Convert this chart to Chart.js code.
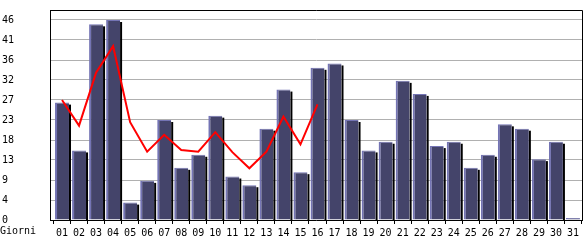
<!DOCTYPE html>
<html>
<head>
<meta charset="utf-8">
<script src="https://cdn.jsdelivr.net/npm/chart.js@4/dist/chart.umd.min.js"></script>
<style>
  html, body { margin: 0; padding: 0; background: #fff; }
  #wrap { width: 585px; height: 240px; }
</style>
</head>
<body>
<div id="wrap"><canvas id="grafico" width="585" height="240"></canvas></div>
<script>
// giorni del mese
var giorni = ['01','02','03','04','05','06','07','08','09','10','11','12','13','14','15','16',
              '17','18','19','20','21','22','23','24','25','26','27','28','29','30','31'];

// valori delle barre
var visite = [27, 16, 45, 46, 4, 9, 23, 12, 15, 24, 10, 8, 21, 30, 11, 35,
              36, 23, 16, 18, 32, 29, 17, 18, 12, 15, 22, 21, 14, 18, 0];

// linea rossa (solo primi 16 giorni)
var media = [27.6, 21.7, 33.9, 40.0, 22.5, 15.7, 19.6, 16.1, 15.7, 20.2, 15.6, 11.9,
             15.7, 23.8, 17.4, 26.6];

// tacche asse y
var yTickValori = [0, 4.6, 9.2, 13.8, 18.4, 23, 27.6, 32.2, 36.8, 41.4, 46];
var yTickEtichette = ['0', '4', '9', '13', '18', '23', '27', '32', '36', '41', '46'];

var fontMono = { family: 'DejaVu Sans Mono', size: 10 };

// ombra nera a destra delle barre (disegnata prima delle barre)
var ombraBarre = {
    id: 'ombraBarre',
    beforeDatasetDraw: function (chart, args) {
        if (args.index !== 0) return;
        var ctx = chart.ctx;
        var a = chart.chartArea;
        ctx.save();
        ctx.beginPath();
        ctx.rect(a.left, a.top, a.right - a.left, a.bottom - a.top);
        ctx.clip();
        ctx.fillStyle = '#000';
        args.meta.data.forEach(function (bar) {
            var p = bar.getProps(['x', 'y', 'base', 'width']);
            var alto = Math.min(p.y, p.base);
            var basso = Math.max(p.y, p.base);
            ctx.fillRect(p.x + p.width / 2, alto + 2, 2, basso - alto);
        });
        ctx.restore();
    }
};

// cornice in alto/destra + scritta "Giorni"
var cornice = {
    id: 'cornice',
    afterDraw: function (chart) {
        var ctx = chart.ctx;
        var a = chart.chartArea;
        ctx.save();
        ctx.strokeStyle = '#000';
        ctx.lineWidth = 1;
        ctx.beginPath();
        ctx.moveTo(a.left, a.top + 0.5);
        ctx.lineTo(a.right + 0.5, a.top + 0.5);
        ctx.lineTo(a.right + 0.5, a.bottom);
        ctx.stroke();
        ctx.fillStyle = '#000';
        ctx.font = '10px "DejaVu Sans Mono"';
        ctx.textBaseline = 'middle';
        ctx.textAlign = 'left';
        ctx.fillText('Giorni', 0, chart.scales.x.top + 11);
        ctx.restore();
    }
};

var ctx = document.getElementById('grafico').getContext('2d');
new Chart(ctx, {
    type: 'bar',
    data: {
        datasets: [{
            type: 'bar',
            data: visite.map(function (v, i) { return { x: i + 1, y: v }; }),
            backgroundColor: '#44446a',
            borderColor: '#7474b4',
            borderWidth: { left: 2, top: 1, right: 0, bottom: 0 },
            borderSkipped: false,
            barPercentage: 0.82,
            categoryPercentage: 1,
            minBarLength: 2,
            order: 2
        }, {
            type: 'line',
            data: media.map(function (v, i) { return { x: i + 1, y: v }; }),
            borderColor: '#ff0000',
            borderWidth: 2,
            pointRadius: 0,
            tension: 0,
            fill: false,
            order: 1
        }]
    },
    options: {
        responsive: false,
        animation: false,
        layout: { padding: { left: 2, top: 10, right: 3, bottom: 0 } },
        plugins: {
            legend: { display: false },
            tooltip: { enabled: false }
        },
        scales: {
            x: {
                type: 'linear',
                min: 0.295,
                max: 31.53,
                offset: false,
                afterBuildTicks: function (scale) {
                    scale.ticks = giorni.map(function (g, i) { return { value: i + 1 }; });
                },
                afterFit: function (scale) { scale.height = 20; },
                ticks: {
                    autoSkip: false,
                    maxRotation: 0,
                    padding: 3,
                    color: '#000',
                    font: fontMono,
                    callback: function (v) { return giorni[v - 1]; }
                },
                grid: {
                    drawOnChartArea: false,
                    drawTicks: true,
                    tickLength: 4,
                    color: '#000'
                },
                border: { color: '#000', width: 1 }
            },
            y: {
                min: 0,
                max: 48.3,
                afterBuildTicks: function (scale) {
                    scale.ticks = yTickValori.map(function (v) { return { value: v }; });
                },
                afterFit: function (scale) { scale.width = 48; },
                ticks: {
                    crossAlign: 'far',
                    padding: 0,
                    color: '#000',
                    font: fontMono,
                    callback: function (v) { return yTickEtichette[yTickValori.indexOf(v)]; }
                },
                grid: {
                    drawTicks: false,
                    color: '#b0b0b0'
                },
                border: { color: '#000', width: 1 }
            }
        }
    },
    plugins: [ombraBarre, cornice]
});
</script>
</body>
</html>
